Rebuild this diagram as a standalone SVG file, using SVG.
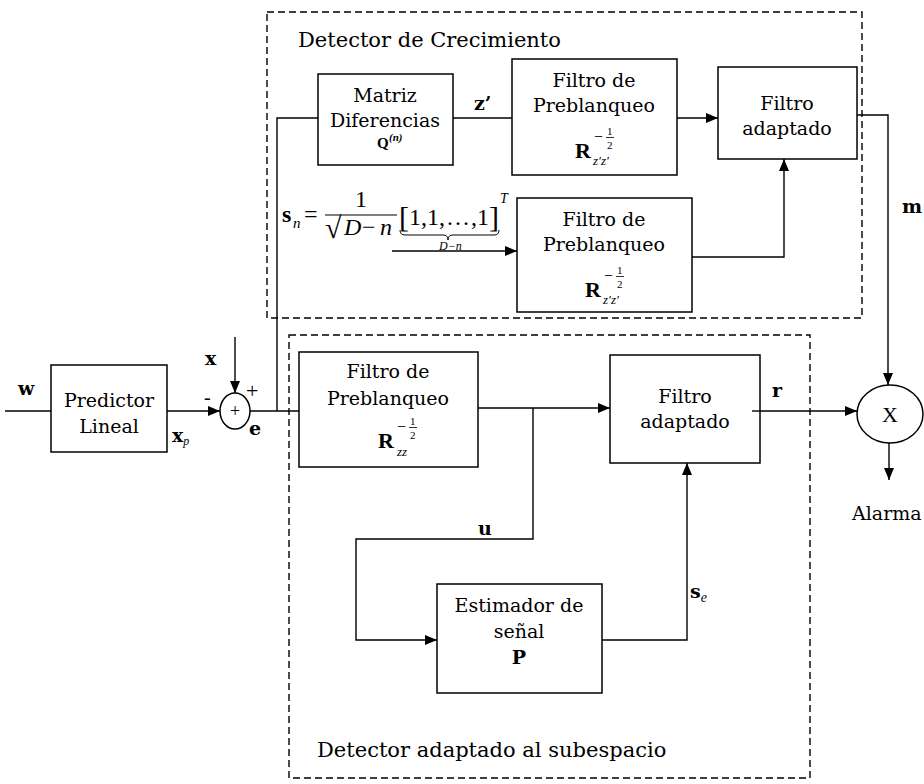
<svg xmlns="http://www.w3.org/2000/svg" xmlns:xlink="http://www.w3.org/1999/xlink" width="924" height="784" viewBox="0 0 924 784">
  <style>
    .box { fill: #fff; stroke: #000; stroke-width: 1.5; }
    .dash { fill: none; stroke: #000; stroke-width: 1.4; stroke-dasharray: 7 4; }
    .wire { fill: none; stroke: #000; stroke-width: 1.4; }
    .t { font-family: "DejaVu Serif", "Liberation Serif", serif; font-size: 19px; fill: #000; }
    .title { font-family: "DejaVu Serif", "Liberation Serif", serif; font-size: 21px; fill: #000; }
    .lbl { font-family: "DejaVu Serif", "Liberation Serif", serif; font-size: 19px; font-weight: bold; fill: #000; }
    .m { font-family: "Liberation Serif", "Times New Roman", serif; fill: #000; }
    .mb { font-family: "Liberation Serif", "Times New Roman", serif; font-weight: bold; fill: #000; }
    .mi { font-family: "Liberation Serif", "Times New Roman", serif; font-style: italic; fill: #000; }
  </style>
  <defs>
    <marker id="arrow" markerUnits="userSpaceOnUse" markerWidth="13" markerHeight="11" refX="12" refY="5" orient="auto">
      <path d="M0,0 L12,5 L0,10 z" fill="#000"/>
    </marker>
    <!-- bold R raised to the power -1/2 -->
    <g id="rpow">
      <text class="mb" x="0" y="0" font-size="22">R</text>
      <text class="m" x="19" y="-16" font-size="16">−</text>
      <text class="m" x="32" y="-23" font-size="11">1</text>
      <line x1="31" y1="-20.5" x2="39" y2="-20.5" stroke="#000" stroke-width="0.8"/>
      <text class="m" x="32" y="-9" font-size="11">2</text>
    </g>
  </defs>

  <!-- dashed groupings -->
  <g id="detector-crecimiento">
    <rect class="dash" x="267" y="12" width="595" height="306"/>
    <text class="title" x="298" y="47">Detector de Crecimiento</text>
  </g>
  <g id="detector-subespacio">
    <rect class="dash" x="289" y="335" width="521" height="443"/>
    <text class="title" x="317" y="757">Detector adaptado al subespacio</text>
  </g>

  <!-- connectors -->
  <g id="connectors">
    <path class="wire" d="M5,411 H51"/>
    <path class="wire" d="M167,411 H220" marker-end="url(#arrow)"/>
    <path class="wire" d="M235,337 V393" marker-end="url(#arrow)"/>
    <path class="wire" d="M250,411 H299"/>
    <path class="wire" d="M277,411 V118 H318"/>
    <path class="wire" d="M453,118 H512"/>
    <path class="wire" d="M677,118 H718" marker-end="url(#arrow)"/>
    <path class="wire" d="M392,251 H517" marker-end="url(#arrow)"/>
    <path class="wire" d="M692,257 H784 V159" marker-end="url(#arrow)"/>
    <path class="wire" d="M857,115 H888 V385" marker-end="url(#arrow)"/>
    <path class="wire" d="M478,408 H610" marker-end="url(#arrow)"/>
    <path class="wire" d="M533,408 V539 H356 V640 H437" marker-end="url(#arrow)"/>
    <path class="wire" d="M602,640 H687 V463" marker-end="url(#arrow)"/>
    <path class="wire" d="M752,411 H857" marker-end="url(#arrow)"/>
    <path class="wire" d="M889,443 V480" marker-end="url(#arrow)"/>
  </g>

  <!-- signal labels -->
  <g id="labels">
    <text class="lbl" x="18" y="395">w</text>
    <text class="lbl" x="172" y="442">x<tspan class="mi" font-weight="normal" font-size="12" dy="3">p</tspan></text>
    <text class="lbl" x="205" y="365">x</text>
    <text class="m" x="204" y="404" font-size="20">-</text>
    <text class="m" x="246" y="398" font-size="22">+</text>
    <text class="lbl" x="249" y="435">e</text>
    <text class="lbl" x="474" y="110">z’</text>
    <text class="lbl" x="478" y="535">u</text>
    <text class="lbl" x="772" y="397">r</text>
    <text class="lbl" x="902" y="213">m</text>
    <text class="lbl" x="690" y="598">s<tspan class="mi" font-weight="normal" font-size="14" dy="4">e</tspan></text>
    <text class="t" x="852" y="520">Alarma</text>
  </g>

  <!-- test vector s_n -->
  <g id="sn-formula">
    <text class="mb" x="282" y="222" font-size="24">s</text>
    <text class="mi" x="293" y="228" font-size="15">n</text>
    <text class="m" x="304" y="222" font-size="24">=</text>
    <text class="m" x="355" y="207" font-size="24">1</text>
    <line x1="325" y1="215" x2="397" y2="215" stroke="#000" stroke-width="1.1"/>
    <text class="m" x="325" y="238" font-size="30">√</text>
    <text class="mi" x="344" y="235" font-size="24">D</text>
    <text class="m" x="362" y="235" font-size="24">−</text>
    <text class="mi" x="380" y="235" font-size="24">n</text>
    <text class="m" x="399" y="227" font-size="30">[</text>
    <text class="m" x="409" y="225" font-size="24">1,</text>
    <text class="m" x="427" y="225" font-size="24">1,</text>
    <text class="m" x="446" y="225" font-size="24">…</text>
    <text class="m" x="471" y="225" font-size="24">,</text>
    <text class="m" x="477" y="225" font-size="24">1</text>
    <text class="m" x="489" y="227" font-size="30">]</text>
    <text class="mi" x="500" y="203" font-size="14">T</text>
    <path d="M400,230 q0,5 5,5 H443 q5,0 5,5 q0,-5 5,-5 H494 q5,0 5,-5" fill="none" stroke="#000" stroke-width="1"/>
    <text class="mi" x="439" y="250" font-size="12">D−n</text>
  </g>

  <!-- blocks -->
  <g id="predictor-lineal">
    <rect class="box" x="51" y="365" width="116" height="87"/>
    <text class="t" x="109" y="407" text-anchor="middle">Predictor</text>
    <text class="t" x="109" y="433" text-anchor="middle">Lineal</text>
  </g>
  <g id="sumador">
    <ellipse class="box" cx="235" cy="411" rx="15" ry="18"/>
    <text class="m" x="235" y="417" font-size="18" text-anchor="middle">+</text>
  </g>
  <g id="matriz-diferencias">
    <rect class="box" x="318" y="74" width="135" height="91"/>
    <text class="t" x="385" y="102" text-anchor="middle">Matriz</text>
    <text class="t" x="385" y="127" text-anchor="middle">Diferencias</text>
    <text class="mb" x="377" y="148" font-size="15">Q</text>
    <text class="mi" x="389" y="141" font-size="11" font-weight="bold">(n)</text>
  </g>
  <g id="preblanqueo-z">
    <rect class="box" x="512" y="59" width="165" height="116"/>
    <text class="t" x="594" y="87" text-anchor="middle">Filtro de</text>
    <text class="t" x="594" y="112" text-anchor="middle">Preblanqueo</text>
    <use xlink:href="#rpow" x="575" y="158"/>
    <text class="mi" x="593" y="165" font-size="13">z′z′</text>
  </g>
  <g id="filtro-adaptado-m">
    <rect class="box" x="718" y="67" width="139" height="92"/>
    <text class="t" x="787" y="110" text-anchor="middle">Filtro</text>
    <text class="t" x="787" y="135" text-anchor="middle">adaptado</text>
  </g>
  <g id="preblanqueo-s">
    <rect class="box" x="517" y="198" width="175" height="114"/>
    <text class="t" x="604" y="226" text-anchor="middle">Filtro de</text>
    <text class="t" x="604" y="251" text-anchor="middle">Preblanqueo</text>
    <use xlink:href="#rpow" x="585" y="297"/>
    <text class="mi" x="603" y="304" font-size="13">z′z′</text>
  </g>
  <g id="preblanqueo-zz">
    <rect class="box" x="299" y="352" width="179" height="115"/>
    <text class="t" x="388" y="378" text-anchor="middle">Filtro de</text>
    <text class="t" x="388" y="405" text-anchor="middle">Preblanqueo</text>
    <use xlink:href="#rpow" x="378" y="448"/>
    <text class="mi" x="397" y="456" font-size="13">zz</text>
  </g>
  <g id="filtro-adaptado-r">
    <rect class="box" x="610" y="355" width="150" height="108"/>
    <path class="wire" d="M752,411 H760"/>
    <text class="t" x="685" y="403" text-anchor="middle">Filtro</text>
    <text class="t" x="685" y="428" text-anchor="middle">adaptado</text>
  </g>
  <g id="estimador">
    <rect class="box" x="437" y="584" width="165" height="109"/>
    <text class="t" x="519" y="612" text-anchor="middle">Estimador de</text>
    <text class="t" x="519" y="638" text-anchor="middle">señal</text>
    <text class="lbl" x="519" y="664" text-anchor="middle" font-size="20">P</text>
  </g>
  <g id="multiplicador">
    <ellipse class="box" cx="890" cy="414" rx="33" ry="29"/>
    <text class="m" x="890" y="422" font-size="22" text-anchor="middle">X</text>
  </g>
</svg>
